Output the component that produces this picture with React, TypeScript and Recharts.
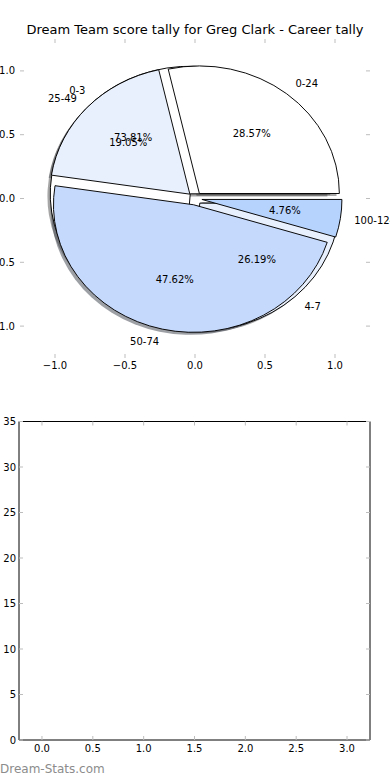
import { PieChart, Pie, Cell, ScatterChart, Scatter, XAxis, YAxis } from 'recharts'

// career tally bands (outer pie, drawn on top)
const tallyNames = ['0-24', '25-49', '50-74', '100-124']
const tallyValues = [6, 4, 10, 1]
const tallyColors = ['#ffffff', '#e9f0fd', '#c5d9fc', '#b6d3fe']
const tallyExplode = [0.05, 0.05, 0.05, 0.05]

// goals bands (second pie, sits underneath)
const goalNames = ['0-3', '4-7']
const goalValues = [31, 11]
const goalColors = ['#ffffff', '#e9f0fd']
const goalExplode = [0.05, 0.05]

const pieTicks = [-1, -0.5, 0, 0.5, 1]
const lowerXTicks = [0, 0.5, 1, 1.5, 2, 2.5, 3]
const lowerYTicks = [0, 5, 10, 15, 20, 25, 30, 35]

const FONT = '"DejaVu Sans", sans-serif'
const CX = 195
const CY = 198.5
const RX = 140
const RY = 127.6
const TICK_GREY = '#bdbdbd'

const tickStyle = { fontSize: 10, fill: '#000', fontFamily: FONT }
const noLabel = () => <g />

function midAngles(values: number[]) {
  const total = values.reduce((a, b) => a + b, 0)
  let acc = 0
  return values.map((v) => {
    const mid = ((acc + v / 2) / total) * 360
    acc += v
    return mid
  })
}

function wedgeTransform(mid: number, explode: number, shadow: boolean) {
  const rad = (mid * Math.PI) / 180
  let dx = explode * RX * Math.cos(rad)
  let dy = -explode * RY * Math.sin(rad)
  if (shadow) {
    dx += -0.02 * RX
    dy += 0.02 * RY
  }
  return `translate(${CX + dx} ${CY + dy}) scale(1 ${RY / RX}) translate(${-CX} ${-CY})`
}

function shade(hex: string) {
  const n = parseInt(hex.slice(1), 16)
  const r = Math.round(((n >> 16) & 255) * 0.3)
  const g = Math.round(((n >> 8) & 255) * 0.3)
  const b = Math.round((n & 255) * 0.3)
  return `rgb(${r},${g},${b})`
}

function toRows(names: string[], values: number[]) {
  return names.map((name, i) => ({ name, value: values[i] }))
}

function makeLabel(names: string[], values: number[], explode: number[]) {
  const total = values.reduce((a, b) => a + b, 0)
  const mids = midAngles(values)
  return (props: { index: number }) => {
    const i = props.index
    const rad = (mids[i] * Math.PI) / 180
    const c = Math.cos(rad)
    const s = Math.sin(rad)
    const e = explode[i]
    const lx = CX + (1.1 + e) * RX * c
    const ly = CY - (1.1 + e) * RY * s
    const px = CX + (0.6 + e) * RX * c
    const py = CY - (0.6 + e) * RY * s
    return (
      <g key={`lbl-${names[i]}`}>
        <text x={lx} y={ly} textAnchor={c > 0 ? 'start' : 'end'} dominantBaseline="central" fontSize={10} fontFamily={FONT} fill="#000">
          {names[i]}
        </text>
        <text x={px} y={py} textAnchor="middle" dominantBaseline="central" fontSize={10} fontFamily={FONT} fill="#000">
          {`${((values[i] / total) * 100).toFixed(2)}%`}
        </text>
      </g>
    )
  }
}

const fmtPie = (v: number) => (v < 0 ? '\u2212' : '') + Math.abs(v).toFixed(1)

export default function App() {
  const tallyRows = toRows(tallyNames, tallyValues)
  const goalRows = toRows(goalNames, goalValues)
  const tallyMids = midAngles(tallyValues)
  const goalMids = midAngles(goalValues)

  return (
    <div style={{ position: 'absolute', left: 0, top: 0, width: 390, height: 780, background: '#fff', fontFamily: FONT }}>
      <div style={{ position: 'absolute', left: 0, top: 22.5, width: 390, textAlign: 'center', fontSize: 13, lineHeight: '13px', color: '#000', whiteSpace: 'nowrap' }}>
        Dream Team score tally for Greg Clark - Career tally
      </div>

      {/* pie axes frame (ticks only) */}
      <div style={{ position: 'absolute', left: 0, top: 0 }}>
        <ScatterChart width={390} height={380} margin={{ top: 30, right: 0, bottom: 0, left: 0 }}>
          <XAxis xAxisId="b" dataKey="x" type="number" domain={[-1.25, 1.25]} allowDataOverflow ticks={pieTicks} interval={0} height={22} axisLine={false}
            tickSize={-4} tickMargin={8} tickLine={{ stroke: TICK_GREY }} tick={tickStyle} tickFormatter={fmtPie} />
          <XAxis xAxisId="t" dataKey="x" orientation="top" type="number" domain={[-1.25, 1.25]} allowDataOverflow ticks={pieTicks} interval={0} height={9} axisLine={false}
            tickSize={-4} tickLine={{ stroke: TICK_GREY }} tick={noLabel} />
          <YAxis yAxisId="l" dataKey="y" type="number" domain={[-1.25, 1.25]} allowDataOverflow ticks={pieTicks} interval={0} width={20} axisLine={false}
            tickSize={-4} tickMargin={9} tickLine={{ stroke: TICK_GREY }} tick={tickStyle} tickFormatter={fmtPie} />
          <YAxis yAxisId="r" dataKey="y" orientation="right" type="number" domain={[-1.25, 1.25]} allowDataOverflow ticks={pieTicks} interval={0} width={20} axisLine={false}
            tickSize={-4} tickLine={{ stroke: TICK_GREY }} tick={noLabel} />
          <Scatter xAxisId="b" yAxisId="l" data={[]} isAnimationActive={false} />
          <Scatter xAxisId="t" yAxisId="r" data={[]} isAnimationActive={false} />
        </ScatterChart>
      </div>

      <div style={{ position: 'absolute', left: 0, top: 0 }}>
        <PieChart width={390} height={380} margin={{ top: 0, right: 0, bottom: 0, left: 0 }}>
          <Pie data={goalRows} dataKey="value" cx={CX} cy={CY} outerRadius={RX} startAngle={0} endAngle={360}
            stroke="none" isAnimationActive={false} labelLine={false}>
            {goalRows.map((r, i) => (
              <Cell key={r.name} fill={shade(goalColors[i])} fillOpacity={0.5} transform={wedgeTransform(goalMids[i], goalExplode[i], true)} />
            ))}
          </Pie>
          <Pie data={tallyRows} dataKey="value" cx={CX} cy={CY} outerRadius={RX} startAngle={0} endAngle={360}
            stroke="none" isAnimationActive={false} labelLine={false}>
            {tallyRows.map((r, i) => (
              <Cell key={r.name} fill={shade(tallyColors[i])} fillOpacity={0.5} transform={wedgeTransform(tallyMids[i], tallyExplode[i], true)} />
            ))}
          </Pie>
          <Pie data={goalRows} dataKey="value" cx={CX} cy={CY} outerRadius={RX} startAngle={0} endAngle={360}
            stroke="#000" strokeWidth={1} isAnimationActive={false} labelLine={false}>
            {goalRows.map((r, i) => (
              <Cell key={r.name} fill={goalColors[i]} stroke="#000" transform={wedgeTransform(goalMids[i], goalExplode[i], false)} />
            ))}
          </Pie>
          <Pie data={tallyRows} dataKey="value" cx={CX} cy={CY} outerRadius={RX} startAngle={0} endAngle={360}
            stroke="#000" strokeWidth={1} isAnimationActive={false} labelLine={false}
            label={makeLabel(tallyNames, tallyValues, tallyExplode)}>
            {tallyRows.map((r, i) => (
              <Cell key={r.name} fill={tallyColors[i]} stroke="#000" transform={wedgeTransform(tallyMids[i], tallyExplode[i], false)} />
            ))}
          </Pie>
          <Pie data={goalRows} dataKey="value" cx={CX} cy={CY} outerRadius={RX} startAngle={0} endAngle={360}
            fill="none" stroke="none" isAnimationActive={false} labelLine={false}
            label={makeLabel(goalNames, goalValues, goalExplode)} />
        </PieChart>
      </div>

      {/* empty lower axes */}
      <div style={{ position: 'absolute', left: 0, top: 400 }}>
        <ScatterChart width={390} height={360} margin={{ top: 0, right: 0, bottom: 0, left: 0 }}>
          <XAxis xAxisId="b" dataKey="x" type="number" domain={[-0.226, 3.226]} allowDataOverflow ticks={lowerXTicks} interval={0} height={20} axisLine={{ stroke: '#000' }}
            tickSize={-4} tickMargin={9} tickLine={{ stroke: TICK_GREY }} tick={tickStyle} tickFormatter={(v: number) => v.toFixed(1)} />
          <XAxis xAxisId="t" dataKey="x" orientation="top" type="number" domain={[-0.226, 3.226]} allowDataOverflow ticks={lowerXTicks} interval={0} height={21.5} axisLine={{ stroke: '#000' }}
            tickSize={-4} tickLine={{ stroke: TICK_GREY }} tick={noLabel} />
          <YAxis yAxisId="l" dataKey="y" type="number" domain={[0, 35]} allowDataOverflow ticks={lowerYTicks} interval={0} width={19} axisLine={{ stroke: '#000' }}
            tickSize={-4} tickMargin={7} tickLine={{ stroke: TICK_GREY }} tick={tickStyle} />
          <YAxis yAxisId="r" dataKey="y" orientation="right" type="number" domain={[0, 35]} allowDataOverflow ticks={lowerYTicks} interval={0} width={20} axisLine={{ stroke: '#000' }}
            tickSize={-4} tickLine={{ stroke: TICK_GREY }} tick={noLabel} />
          <Scatter xAxisId="b" yAxisId="l" data={[]} isAnimationActive={false} />
          <Scatter xAxisId="t" yAxisId="r" data={[]} isAnimationActive={false} />
        </ScatterChart>
      </div>

      <div style={{ position: 'absolute', left: 0, top: 762.5, fontSize: 12, lineHeight: '12px', color: '#8c8c8c', whiteSpace: 'nowrap' }}>
        Dream-Stats.com
      </div>
    </div>
  )
}
